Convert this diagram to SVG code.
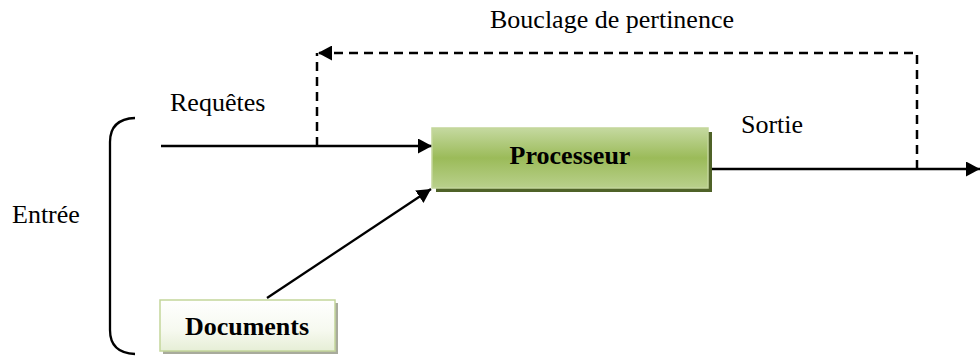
<svg xmlns="http://www.w3.org/2000/svg" width="980" height="356" viewBox="0 0 980 356">
  <style>
    .lbl { font-family: "Liberation Serif", "Times New Roman", serif; font-size: 26px; fill: #000; }
    .bold { font-family: "Liberation Serif", "Times New Roman", serif; font-size: 26px; font-weight: bold; fill: #000; }
    .line { fill: none; stroke: #000; stroke-width: 2.3; }
    .dash { fill: none; stroke: #000; stroke-width: 2.5; stroke-dasharray: 9 6; }
  </style>
  <defs>
    <marker id="arrow" viewBox="0 0 14 15" refX="14" refY="7.5" markerWidth="14" markerHeight="15" markerUnits="userSpaceOnUse" orient="auto">
      <path d="M0,0 L14,7.5 L0,15 Z" fill="#000"/>
    </marker>
    <linearGradient id="gProc" x1="0" y1="0" x2="0" y2="1">
      <stop offset="0" stop-color="#c5d9a0"/>
      <stop offset="0.5" stop-color="#9bbb59"/>
      <stop offset="1" stop-color="#b9d08c"/>
    </linearGradient>
    <linearGradient id="gDoc" x1="0" y1="0" x2="0" y2="1">
      <stop offset="0" stop-color="#ffffff"/>
      <stop offset="0.6" stop-color="#f6f9ef"/>
      <stop offset="1" stop-color="#e6eed6"/>
    </linearGradient>
  </defs>

  <g id="connectors">
    <path class="line" d="M135,118 Q110,119 110,142 L110,330 Q110,353 135,354"/>
    <line class="line" x1="161" y1="146" x2="432" y2="146" marker-end="url(#arrow)"/>
    <line class="line" x1="267" y1="298" x2="431" y2="189" marker-end="url(#arrow)"/>
    <line class="line" x1="708" y1="169" x2="980" y2="169" marker-end="url(#arrow)"/>
    <path class="dash" d="M917,169 L917,53 L318,53" marker-end="url(#arrow)"/>
    <line class="dash" x1="317" y1="146" x2="317" y2="53"/>
  </g>

  <g id="processeur">
    <rect x="436" y="132" width="276" height="60" fill="#4f6228"/>
    <rect x="432" y="128" width="276" height="60" fill="url(#gProc)" stroke="#c3d69b" stroke-width="1.5"/>
    <text class="bold" x="570" y="164" text-anchor="middle">Processeur</text>
  </g>

  <g id="documents">
    <rect x="163" y="303" width="175" height="51" fill="#a8ab9c"/>
    <rect x="160" y="300" width="175" height="51" fill="url(#gDoc)" stroke="#c3d69b" stroke-width="1.5"/>
    <text class="bold" x="247" y="335" text-anchor="middle">Documents</text>
  </g>

  <g id="labels">
    <text class="lbl" x="490" y="28">Bouclage de pertinence</text>
    <text class="lbl" x="170" y="111">Requêtes</text>
    <text class="lbl" x="741" y="133">Sortie</text>
    <text class="lbl" x="12" y="223">Entrée</text>
  </g>
</svg>
